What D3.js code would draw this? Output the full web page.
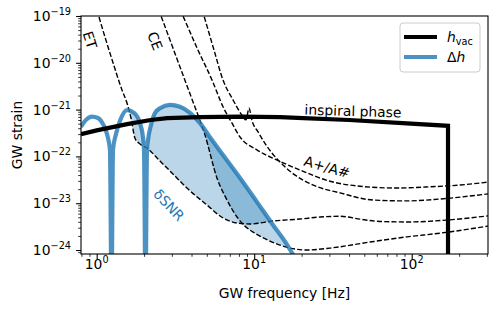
<!DOCTYPE html>
<html>
<head>
<meta charset="utf-8">
<script src="https://cdn.jsdelivr.net/npm/d3@7"></script>
<style>
  body { margin: 0; background: #fff; }
  text { font-family: "DejaVu Sans", sans-serif; }
</style>
</head>
<body>
<svg id="chart"></svg>
<script>
// vacuum inspiral signal (drops at merger)
const hvacFreq = [0.795, 1.0, 1.56, 2.2, 2.8, 4.5, 8.1, 14.6, 20.5, 40, 93, 170];
const hvacStrain = [3.0e-22, 3.6e-22, 4.9e-22, 6.0e-22, 6.6e-22, 6.9e-22, 7.1e-22, 6.9e-22, 6.6e-22, 6.0e-22, 5.1e-22, 4.5e-22];
const hvacCutoff = 170;

// dephasing difference
const dhFreq = [0.795, 0.855, 0.934, 1.019, 1.096, 1.162, 1.214, 1.242, 1.269, 1.326, 1.406, 1.557, 1.725, 1.883, 1.968, 1.997, 2.041, 2.086, 2.117, 2.212, 2.344, 2.523, 2.918, 3.38, 3.91, 4.53, 5.24, 6.34, 8.13, 10.4, 13.2, 16.2, 17.7, 19.5];
const dhStrain = [4.27e-22, 6.03e-22, 7.08e-22, 6.61e-22, 4.90e-22, 3.02e-22, 1.38e-22, 1e-25, 1.38e-22, 3.02e-22, 5.75e-22, 9.77e-22, 8.51e-22, 5.13e-22, 2.57e-22, 1.38e-22, 1e-25, 1.38e-22, 2.24e-22, 4.68e-22, 8.51e-22, 1.07e-21, 1.26e-21, 1.15e-21, 8.51e-22, 5.13e-22, 2.57e-22, 1.07e-22, 3.47e-23, 1.07e-23, 3.39e-24, 1.29e-24, 7.8e-25, 5e-25];

// detector noise curves
const etFreq = [0.975, 1.03, 1.27, 1.447, 1.557, 1.651, 1.75, 1.883, 2.086, 2.523, 3.05, 3.74, 5.02, 6.35, 7.78, 9.4, 13.2, 19.5, 26.2, 35.1, 47.0, 63.0, 97.5, 167.5, 305];
const etStrain = [1.9e-19, 1e-19, 1e-20, 2.63e-21, 1.38e-21, 6.61e-22, 2.45e-22, 1.84e-22, 1.51e-22, 7.98e-23, 4.21e-23, 2.11e-23, 9.12e-24, 4.83e-24, 3.78e-24, 3.60e-24, 4.17e-24, 4.59e-24, 5.07e-24, 5.25e-24, 4.57e-24, 4.07e-24, 3.98e-24, 4.37e-24, 5.37e-24];

const ceFreq = [2.38, 2.56, 3.38, 4.09, 4.87, 5.80, 6.72, 7.78, 8.74, 10.1, 12.6, 16.9, 21.6, 30.3, 54.3, 93.3, 151, 305];
const ceStrain = [1.9e-19, 1e-19, 8.13e-21, 1.45e-21, 2.88e-22, 3.47e-23, 1.17e-23, 5.07e-24, 3.24e-24, 2.29e-24, 1.55e-24, 1.10e-24, 1.0e-24, 1.10e-24, 1.48e-24, 1.91e-24, 2.29e-24, 3.24e-24];

const apFreq = [3.24, 3.53, 4.40, 5.40, 6.34, 7.23, 8.13, 10.4, 14.0, 19.5, 30.3, 44.9, 80.6, 131, 203, 305];
const apStrain = [1.9e-19, 1e-19, 1.86e-20, 4.27e-21, 1.15e-21, 5.13e-22, 2.60e-22, 1.38e-22, 8.32e-23, 5.13e-23, 2.95e-23, 2.34e-23, 2.11e-23, 2.24e-23, 2.45e-23, 2.82e-23];

const ashFreq = [4.53, 4.80, 5.56, 6.34, 7.33, 8.25, 8.87, 9.27, 9.69, 10.6, 11.9, 14.2, 18.2, 24.4, 35.1, 56.8, 93.3, 151, 305];
const ashStrain = [1.9e-19, 1e-19, 1.86e-20, 4.27e-21, 1.62e-21, 8.13e-22, 6.03e-22, 1.07e-21, 5.75e-22, 3.31e-22, 1.74e-22, 8.32e-23, 3.98e-23, 2.34e-23, 1.66e-23, 1.17e-23, 1.12e-23, 1.23e-23, 1.58e-23];

// axis ticks
const xMajor = [1, 10, 100];
const xMajorExp = ['0', '1', '2'];
const yMajor = [1e-19, 1e-20, 1e-21, 1e-22, 1e-23, 1e-24];
const yMajorExp = ['\u221219', '\u221220', '\u221221', '\u221222', '\u221223', '\u221224'];

const width = 498;
const height = 311;
const marginTop = 16;
const marginBottom = 57;
const marginLeft = 81;
const marginRight = 10;
const blue = '#1f77b4';

const svg = d3.select('#chart').attr('width', width).attr('height', height);

const x = d3.scaleLog().domain([0.795, 305]).range([marginLeft, width - marginRight]);
const y = d3.scaleLog().domain([Math.pow(10, -24.085), 1e-19]).range([height - marginBottom, marginTop]);

const minorTicks = (lo, hi) => {
  const out = [];
  for (let e = -26; e <= 3; e++) {
    for (let m = 2; m <= 9; m++) {
      const v = m * Math.pow(10, e);
      if (v >= lo && v <= hi) out.push(v);
    }
  }
  return out;
};

const defs = svg.append('defs');
defs.append('clipPath').attr('id', 'plot')
  .append('rect')
  .attr('x', marginLeft).attr('y', marginTop)
  .attr('width', width - marginLeft - marginRight)
  .attr('height', height - marginTop - marginBottom);

const pts = (f, s) => d3.zip(f, s);
const line = d3.line().x(d => x(d[0])).y(d => y(d[1])).curve(d3.curveMonotoneX);
const above = d3.area().x(d => x(d[0])).y0(-20).y1(d => y(d[1])).curve(d3.curveMonotoneX);
const below = d3.area().x(d => x(d[0])).y0(height + 20).y1(d => y(d[1])).curve(d3.curveMonotoneX);

defs.append('clipPath').attr('id', 'aboveET').append('path').attr('d', above(pts(etFreq, etStrain)));
defs.append('clipPath').attr('id', 'aboveCE').append('path').attr('d', above(pts(ceFreq, ceStrain)));

const plot = svg.append('g').attr('clip-path', 'url(#plot)');

// shaded SNR loss: between dh and each third-generation detector
['aboveET', 'aboveCE'].forEach(id => {
  plot.append('g').attr('clip-path', `url(#${id})`)
    .append('path')
    .attr('d', below(pts(dhFreq, dhStrain)))
    .attr('fill', blue)
    .attr('fill-opacity', 0.3);
});

[[etFreq, etStrain], [ceFreq, ceStrain], [apFreq, apStrain], [ashFreq, ashStrain]].forEach(([f, s]) => {
  plot.append('path')
    .attr('d', line(pts(f, s)))
    .attr('fill', 'none')
    .attr('stroke', '#000')
    .attr('stroke-width', 1.4)
    .attr('stroke-dasharray', '5.1,2.2');
});

plot.append('path')
  .attr('d', line(pts(dhFreq, dhStrain)))
  .attr('fill', 'none')
  .attr('stroke', blue)
  .attr('stroke-opacity', 0.8)
  .attr('stroke-width', 4.2)
  .attr('stroke-linejoin', 'round');

const hvacPts = pts(hvacFreq, hvacStrain).concat([[hvacCutoff, 1e-26]]);
plot.append('path')
  .attr('d', d3.line().x(d => x(d[0])).y(d => y(d[1]))(hvacPts))
  .attr('fill', 'none')
  .attr('stroke', '#000')
  .attr('stroke-width', 4.2);

// axes
const gx = svg.append('g')
  .attr('transform', `translate(0,${height - marginBottom})`)
  .call(d3.axisBottom(x).tickValues(xMajor).tickFormat('').tickSize(4.9))
  .call(g => g.select('.domain').remove());
svg.append('g')
  .attr('transform', `translate(0,${height - marginBottom})`)
  .call(d3.axisBottom(x).tickValues(minorTicks(0.795, 305)).tickFormat('').tickSize(2.8))
  .call(g => g.select('.domain').remove())
  .selectAll('line').attr('stroke-width', 0.8);
gx.selectAll('line').attr('stroke-width', 1.1);

const gy = svg.append('g')
  .attr('transform', `translate(${marginLeft},0)`)
  .call(d3.axisLeft(y).tickValues(yMajor).tickFormat('').tickSize(4.9))
  .call(g => g.select('.domain').remove());
gy.selectAll('line').attr('stroke-width', 1.1);
svg.append('g')
  .attr('transform', `translate(${marginLeft},0)`)
  .call(d3.axisLeft(y).tickValues(minorTicks(Math.pow(10, -24.085), 1e-19)).tickFormat('').tickSize(2.8))
  .call(g => g.select('.domain').remove())
  .selectAll('line').attr('stroke-width', 0.8);

svg.append('rect')
  .attr('x', marginLeft).attr('y', marginTop)
  .attr('width', width - marginLeft - marginRight)
  .attr('height', height - marginTop - marginBottom)
  .attr('fill', 'none').attr('stroke', '#000').attr('stroke-width', 1.1);

const powLabel = (sel, exp) => {
  sel.append('tspan').text('10');
  sel.append('tspan').attr('dy', -6).attr('font-size', 9.7).text(exp);
};

xMajor.forEach((v, i) => {
  svg.append('text')
    .attr('x', x(v)).attr('y', height - marginBottom + 14.5)
    .attr('text-anchor', 'middle')
    .attr('font-size', 13.9)
    .call(powLabel, xMajorExp[i]);
});
yMajor.forEach((v, i) => {
  svg.append('text')
    .attr('x', marginLeft - 10).attr('y', y(v) + 5)
    .attr('text-anchor', 'end')
    .attr('font-size', 13.9)
    .call(powLabel, yMajorExp[i]);
});

svg.append('text')
  .attr('x', (marginLeft + width - marginRight) / 2).attr('y', 298)
  .attr('text-anchor', 'middle').attr('font-size', 13.9)
  .text('GW frequency [Hz]');
svg.append('text')
  .attr('transform', `translate(22,${(marginTop + height - marginBottom) / 2}) rotate(-90)`)
  .attr('text-anchor', 'middle').attr('font-size', 13.9)
  .text('GW strain');

// curve labels
const label = (txt, cx, cy, angle, color) => svg.append('text')
  .attr('transform', `translate(${cx},${cy}) rotate(${angle})`)
  .attr('text-anchor', 'middle').attr('dy', '0.36em')
  .attr('font-size', 13.9).attr('fill', color || '#000')
  .text(txt);
label('ET', 90, 40, 72);
label('CE', 155, 41, 68);
label('inspiral phase', 353, 111, 1.8);
label('A+/A#', 327, 167, 16);
label('\u03b4SNR', 169, 205, 47, blue);

// legend
const lg = svg.append('g');
lg.append('rect')
  .attr('x', 400).attr('y', 23).attr('width', 80).attr('height', 49)
  .attr('rx', 3).attr('fill', '#fff').attr('fill-opacity', 0.8)
  .attr('stroke', '#ccc').attr('stroke-width', 1);
lg.append('line').attr('x1', 404).attr('x2', 437).attr('y1', 37).attr('y2', 37)
  .attr('stroke', '#000').attr('stroke-width', 4.2);
lg.append('line').attr('x1', 404).attr('x2', 437).attr('y1', 57).attr('y2', 57)
  .attr('stroke', blue).attr('stroke-opacity', 0.8).attr('stroke-width', 4.2);
const t1 = lg.append('text').attr('x', 447).attr('y', 42).attr('font-size', 13.9);
t1.append('tspan').attr('font-style', 'italic').text('h');
t1.append('tspan').attr('font-size', 9.7).attr('dy', 2.5).text('vac');
const t2 = lg.append('text').attr('x', 447).attr('y', 62).attr('font-size', 13.9);
t2.append('tspan').text('\u0394');
t2.append('tspan').attr('font-style', 'italic').text('h');
</script>
</body>
</html>
